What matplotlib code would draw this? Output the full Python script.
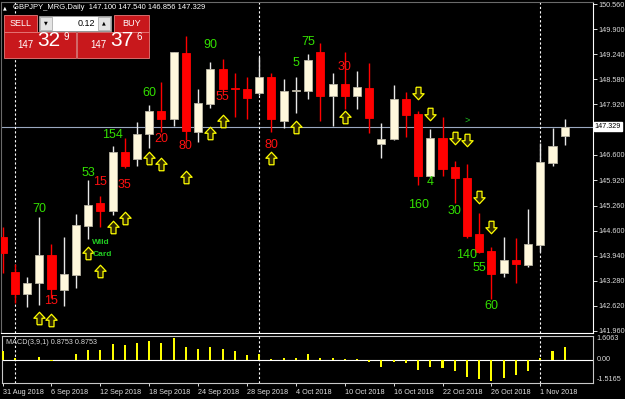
import matplotlib
matplotlib.use('Agg')
import numpy as np
import matplotlib.pyplot as plt
from matplotlib.path import Path
from matplotlib.patches import Rectangle
from matplotlib.transforms import blended_transform_factory

plt.rcParams['font.family'] = ['Liberation Sans', 'DejaVu Sans']

# ---- data ----
symbol = 'GBPJPY_MRG,Daily'
opens = [144.432, 143.519, 142.932, 143.222, 143.958, 143.038, 143.432, 144.721, 145.318, 145.123,
         146.675, 146.475, 147.133, 147.753, 147.535, 149.279, 147.193, 147.938, 148.842, 148.350,
         148.316, 148.227, 148.632, 147.490, 148.272, 148.279, 149.297, 148.140, 148.456, 148.148,
         148.350, 146.878, 147.009, 148.053, 147.667, 146.036, 147.027, 146.265, 145.991, 144.502,
         144.055, 143.477, 143.827, 143.703, 144.213, 146.386, 147.100]
highs = [144.694, 143.721, 143.387, 144.966, 144.247, 144.432, 145.036, 145.931, 145.510, 146.825,
         147.035, 147.464, 147.903, 148.508, 149.310, 149.726, 148.316, 149.034, 149.105, 148.745,
         148.632, 149.158, 148.737, 148.587, 148.632, 149.245, 149.526, 148.753, 149.289, 148.798,
         149.016, 147.422, 148.429, 148.237, 147.738, 147.272, 147.580, 146.430, 146.344, 145.055,
         144.176, 144.439, 144.413, 145.168, 146.912, 147.291, 147.540]
lows = [143.485, 142.696, 142.598, 142.643, 142.827, 142.617, 143.090, 144.387, 144.694, 145.010,
        146.246, 146.299, 146.780, 147.193, 147.351, 146.983, 146.938, 147.817, 148.272, 147.596,
        147.535, 148.166, 147.201, 147.291, 147.701, 148.069, 147.490, 147.351, 147.790, 147.806,
        147.159, 146.522, 146.983, 147.049, 145.799, 146.010, 146.036, 145.318, 144.413, 144.003,
        142.793, 143.372, 143.229, 143.635, 144.045, 146.307, 146.856]
closes = [144.011, 142.932, 143.222, 143.958, 143.064, 143.466, 144.739, 145.273, 145.123, 146.675,
          146.299, 147.140, 147.753, 147.535, 149.289, 147.227, 147.956, 148.842, 148.316, 148.332,
          148.080, 148.632, 147.527, 148.272, 148.290, 149.079, 148.140, 148.456, 148.148, 148.377,
          147.569, 147.009, 148.053, 147.640, 146.036, 147.027, 146.220, 145.991, 144.466, 144.045,
          143.458, 143.819, 143.713, 144.247, 146.404, 146.825, 147.329]
macd = [0.61, 0.15, 0.02, 0.22, -0.10, 0.01, 0.39, 0.66, 0.63, 1.05, 1.01, 1.09, 1.25, 1.14, 1.44,
        0.85, 0.72, 0.83, 0.70, 0.57, 0.35, 0.39, 0.09, 0.15, 0.15, 0.42, 0.15, 0.15, 0.07, 0.07,
        -0.15, -0.44, -0.15, -0.17, -0.63, -0.48, -0.55, -0.70, -1.09, -1.23, -1.38, -1.16, -1.01,
        -0.70, 0.10, 0.57, 0.8753]
macd_range = (-1.5165, 1.6063)
bid, ask = 147.329, 147.376
lot = 0.12

date_idx = [0, 4, 8, 12, 16, 20, 24, 28, 32, 36, 40, 44]
date_lbl = ['31 Aug 2018', '6 Sep 2018', '12 Sep 2018', '18 Sep 2018', '24 Sep 2018', '28 Sep 2018',
            '4 Oct 2018', '10 Oct 2018', '16 Oct 2018', '22 Oct 2018', '26 Oct 2018', '1 Nov 2018']
month_starts = [1, 21, 44]
# 147.260 sits under the bid label box, so only its tick mark shows
price_ticks = [150.560, 149.900, 149.240, 148.580, 147.920, 147.260, 146.600, 145.920,
               145.260, 144.600, 143.940, 143.280, 142.620, 141.960]
hidden_tick = 147.260

green_x = [3, 7, 9, 12, 17, 24, 25, 34, 35, 37, 38, 39, 40]
green_y = [145.17, 146.11, 147.115, 148.22, 149.48, 149.01, 149.56, 145.27, 145.88, 145.115, 143.96, 143.62, 142.62]
green_txt = ['70', '53', '154', '60', '90', '5', '75', '160', '4', '30', '140', '55', '60']
red_x = [4, 8, 10, 13, 15, 18, 22, 28]
red_y = [142.75, 145.88, 145.80, 147.01, 146.825, 148.11, 146.85, 148.90]
red_txt = ['15', '15', '35', '20', '80', '55', '80', '30']
up_x = [3, 4, 7, 8, 9, 10, 12, 13, 15, 17, 18, 22, 24, 28]
up_y = [142.30, 142.25, 144.01, 143.54, 144.695, 144.93, 146.51, 146.35, 146.01, 147.167, 147.48, 146.51, 147.325, 147.59]
dn_x = [34, 35, 37, 38, 39, 40]
dn_y = [148.219, 147.667, 147.035, 146.983, 145.48, 144.695]

# ---- layout helpers (pixel geometry of the terminal window) ----
W, H = 625, 399
x0px, dxpx = 2.6, 12.22      # centre of bar 0, bar spacing
def rect(x0, y0, x1, y1):
    return [x0 / W, 1 - y1 / H, (x1 - x0) / W, (y1 - y0) / H]
def xlim_px(a, b):
    return ((a - x0px) / dxpx, (b - x0px) / dxpx)

fig = plt.figure(figsize=(6.25, 3.99), dpi=100, facecolor='black')
ax = fig.add_axes(rect(0.5, 2, 592.5, 333), facecolor='black')
axm = fig.add_axes(rect(2, 335.5, 593, 383), facecolor='black')

o, h, l, c = map(np.array, (opens, highs, lows, closes))
x = np.arange(len(o))
bull = c >= o

# candles
wick_col = np.where(bull, '#e8e8e8', '#ff0000')
ax.vlines(x, l, h, colors=wick_col, lw=1, zorder=2)
ax.bar(x, np.abs(c - o), bottom=np.minimum(o, c), width=0.66,
       color=np.where(bull, '#fff8dc', '#ff0000'),
       edgecolor=np.where(bull, '#b8b3a3', '#ff0000'), linewidth=0.6, zorder=3)

# bid line
ax.axhline(closes[-1], color='#9aa8c0', lw=0.8, zorder=1)
for m in month_starts:
    ax.axvline(m, color='white', ls=(0, (2, 2)), lw=0.8, zorder=1)
    axm.axvline(m, color='white', ls=(0, (2, 2)), lw=0.8, zorder=1)

# signal arrows
up = Path([(-0.2, -0.5), (0.2, -0.5), (0.2, 0.02), (0.45, 0.02), (0, 0.5), (-0.45, 0.02), (-0.2, 0.02), (-0.2, -0.5)])
dn = Path([(vx, -vy) for vx, vy in up.vertices])
ax.plot(up_x, up_y, ls='none', marker=up, ms=9, mfc='#2c2600', mec='#ffff00', mew=0.9, zorder=5)
ax.plot(dn_x, dn_y, ls='none', marker=dn, ms=9, mfc='#2c2600', mec='#ffff00', mew=0.9, zorder=5)

for xi, yi, t in zip(green_x, green_y, green_txt):
    ax.text(xi, yi, t, color='#33e000', fontsize=9, ha='center', va='center', zorder=6)
for xi, yi, t in zip(red_x, red_y, red_txt):
    ax.text(xi, yi, t, color='#ff1010', fontsize=9, ha='center', va='center', zorder=6)
ax.text(8.05, 144.30, 'Wild', color='#22cc22', fontsize=6, fontweight='bold', ha='center', va='center', zorder=7)
ax.text(8.2, 143.96, 'Card', color='#22cc22', fontsize=6, fontweight='bold', ha='center', va='center', zorder=7)
ax.text(38, 147.51, '>', color='#22cc22', fontsize=6.5, ha='center', va='center', zorder=6)

ax.set_xlim(*xlim_px(0.5, 592.5))
ax.set_ylim(150.56 - 329 / 38.02, 150.56 + 2 / 38.02)
ax.set_xticks([])
ax.yaxis.tick_right()
ax.set_yticks(price_ticks)
ax.set_yticklabels(['' if v == hidden_tick else f'{v:.3f}' for v in price_ticks])
ax.tick_params(axis='y', colors='white', labelcolor='#dcdcdc', labelsize=5.2, length=3, width=0.6, pad=1.5)
for s in ['top', 'left']:
    ax.spines[s].set_color('#6a6a6a')
for s in ['right', 'bottom']:
    ax.spines[s].set_color('white')
for s in ax.spines.values():
    s.set_linewidth(0.8)

tr = blended_transform_factory(ax.transAxes, ax.transData)
ax.text(1.004, closes[-1], f'{closes[-1]:.3f}', transform=tr, color='black', fontsize=5.2,
        ha='left', va='center', zorder=10,
        bbox=dict(boxstyle='square,pad=0.15', fc='white', ec='white'))

# MACD panel
axm.bar(x, macd, width=0.17, color='#ffff00', zorder=3)
axm.axhline(0, color='white', lw=0.8, zorder=2)
axm.set_xlim(*xlim_px(2, 593))
axm.set_ylim(*macd_range)
axm.set_yticks([])
axm.set_xticks(date_idx)
axm.set_xticklabels(date_lbl)
axm.tick_params(axis='x', colors='white', labelcolor='#e0e0e0', labelsize=5.2, length=2.5, width=0.6, pad=1.5)
for t in axm.get_xticklabels():
    t.set_ha('left')
for s in axm.spines.values():
    s.set_color('#c8c8c8')
    s.set_linewidth(0.8)
axm.text(0.006, 0.86, f'MACD(3,9,1) {macd[-1]:.4f} {macd[-1]:.4f}', transform=axm.transAxes,
         color='#d8d8d8', fontsize=5.2, va='center')
trm = blended_transform_factory(axm.transAxes, axm.transData)
axm.text(1.006, macd_range[1], f'{macd_range[1]:.4f}', transform=trm, color='#dcdcdc', fontsize=5.2, va='top')
axm.text(1.006, 0, '0.00', transform=trm, color='#dcdcdc', fontsize=5.2, va='center')
axm.text(1.006, macd_range[0], f'{macd_range[0]:.4f}', transform=trm, color='#dcdcdc', fontsize=5.2, va='bottom')

# overlay in pixel coordinates: header + one-click trading panel
ov = fig.add_axes([0, 0, 1, 1], facecolor='none')
ov.set_xlim(0, W)
ov.set_ylim(H, 0)
ov.axis('off')
ov.text(5, 7.5, '▲', color='white', fontsize=3.5, ha='center', va='center', family='DejaVu Sans')
ov.text(13, 7.5, f'{symbol}  {opens[-1]:.3f} {highs[-1]:.3f} {lows[-1]:.3f} {closes[-1]:.3f}',
        color='white', fontsize=5.5, va='center')

red = '#c8181c'
for (rx, ry, rw, rh) in [(4, 14.5, 33, 17), (114, 14.5, 35, 17), (4, 31.5, 72, 26), (77, 31.5, 72, 26)]:
    ov.add_patch(Rectangle((rx, ry), rw, rh, fc=red, ec='#e87a7a', lw=0.6))
ov.add_patch(Rectangle((39, 15.5), 72, 15, fc='white', ec='#9a9a9a', lw=0.6))
ov.add_patch(Rectangle((40, 16.5), 12, 13, fc='#e4e4e4', ec='#a0a0a0', lw=0.5))
ov.add_patch(Rectangle((98, 16.5), 12, 13, fc='#e4e4e4', ec='#a0a0a0', lw=0.5))
ov.text(46, 23, '▼', fontsize=3.5, ha='center', va='center', family='DejaVu Sans')
ov.text(104, 23, '▲', fontsize=3.5, ha='center', va='center', family='DejaVu Sans')
ov.text(95, 23, f'{lot:.2f}', fontsize=6.5, ha='right', va='center')
ov.text(20.5, 23, 'SELL', color='white', fontsize=6.5, ha='center', va='center')
ov.text(131.5, 23, 'BUY', color='white', fontsize=6.5, ha='center', va='center')
for px, price in [(4, bid), (77, ask)]:
    s = f'{price:.3f}'
    ov.text(px + 21, 45, s[:3], color='white', fontsize=7, ha='center', va='center')
    ov.text(px + 45, 41, s[4:6], color='white', fontsize=15, ha='center', va='center')
    ov.text(px + 62, 37.5, s[6], color='white', fontsize=7, ha='center', va='center')

fig.savefig('out.png', dpi=100, facecolor='black')
